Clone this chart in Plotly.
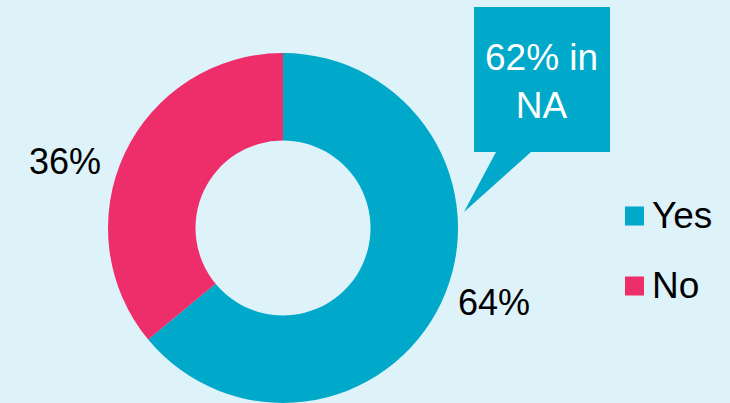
import math
import plotly.graph_objects as go

categories = ["Yes", "No"]
values = [64, 36]
colors = ["#00a9c9", "#ee2d6b"]
callout_text = "62% in<br>NA"

BG = "#ddf2f9"
FONT = "Arial, Liberation Sans, sans-serif"
W, H = 730, 403
CX, CY, R = 283, 228, 175

fig = go.Figure()

fig.add_trace(go.Pie(
    labels=categories, values=values, hole=0.5, sort=False,
    direction="clockwise", rotation=0,
    marker=dict(colors=colors, line=dict(width=0)),
    textinfo="none",
    domain=dict(x=[(CX - R - 1) / W, (CX + R + 1) / W], y=[(H - CY - R) / H, (H - CY + R) / H]),
    showlegend=False, hoverinfo="label+percent",
))

# percentage labels placed outside each slice, derived from the values
total = sum(values)
cum = 0
for v in values:
    mid = (cum + v / 2) / total * 2 * math.pi
    cum += v
    ax = CX + R * math.sin(mid)
    ay = CY - R * math.cos(mid)
    right = math.sin(mid) > 0
    fig.add_annotation(
        x=ax, y=ay, xref="x", yref="y", text=f"{round(v / total * 100)}%",
        showarrow=False, xanchor="left" if right else "right", yanchor="middle",
        xshift=15 if right else -22, yshift=0 if right else -8,
        font=dict(size=36, color="black", family=FONT))

# legend drawn as markers on a hidden full-figure axis
leg_y = [216, 286]
fig.add_trace(go.Scatter(
    x=[634.5, 634.5], y=leg_y, mode="markers",
    marker=dict(symbol="square", size=19, color=colors, line=dict(width=0)),
    showlegend=False, hoverinfo="skip",
))
for cat, y in zip(categories, leg_y):
    fig.add_annotation(x=650, y=y - 1, xref="x", yref="y", text=cat, showarrow=False,
                       xanchor="left", yanchor="middle",
                       font=dict(size=37, color="black", family=FONT))

# speech-bubble callout
bx0, by0, bx1, by1 = 474, 7, 610, 152
path = (f"M{bx0},{by0} L{bx1},{by0} L{bx1},{by1} L531,{by1} "
        f"L464,212 L496,{by1} L{bx0},{by1} Z")
fig.add_shape(type="path", path=path, xref="x", yref="y",
              fillcolor=colors[0], line=dict(width=0), layer="above")
fig.add_annotation(x=(bx0 + bx1) / 2 - 1, y=81, xref="x", yref="y", text=callout_text,
                   showarrow=False, xanchor="center", yanchor="middle",
                   font=dict(size=37, color="white", family=FONT))

fig.update_layout(
    width=W, height=H, margin=dict(l=0, r=0, t=0, b=0),
    paper_bgcolor=BG, plot_bgcolor="rgba(0,0,0,0)",
    xaxis=dict(range=[0, W], visible=False, domain=[0, 1], fixedrange=True),
    yaxis=dict(range=[H, 0], visible=False, domain=[0, 1], fixedrange=True),
    showlegend=False,
)

fig.write_html("out.html")
